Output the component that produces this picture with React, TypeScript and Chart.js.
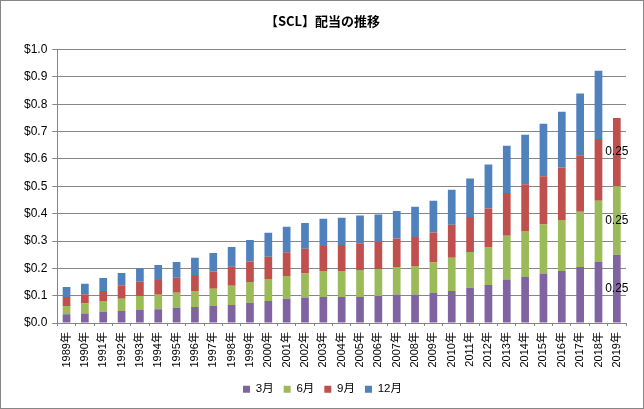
import React, { useEffect, useRef } from 'react';
import { Chart, registerables } from 'chart.js';

Chart.register(...registerables);

const years = [
  '1989年', '1990年', '1991年', '1992年', '1993年', '1994年', '1995年', '1996年',
  '1997年', '1998年', '1999年', '2000年', '2001年', '2002年', '2003年', '2004年',
  '2005年', '2006年', '2007年', '2008年', '2009年', '2010年', '2011年', '2012年',
  '2013年', '2014年', '2015年', '2016年', '2017年', '2018年', '2019年',
];

// quarterly dividends, USD
const mar = [
  0.032, 0.035, 0.041, 0.044, 0.048, 0.050, 0.056, 0.059, 0.062, 0.066, 0.074,
  0.081, 0.089, 0.093, 0.095, 0.095, 0.095, 0.099, 0.104, 0.104, 0.110, 0.117,
  0.129, 0.139, 0.159, 0.168, 0.181, 0.190, 0.205, 0.223, 0.250,
];
const jun = [
  0.030, 0.036, 0.040, 0.045, 0.051, 0.053, 0.055, 0.058, 0.063, 0.070, 0.076,
  0.080, 0.083, 0.088, 0.095, 0.095, 0.099, 0.099, 0.101, 0.105, 0.111, 0.122,
  0.131, 0.139, 0.160, 0.169, 0.179, 0.187, 0.202, 0.224, 0.250,
];
const sep = [
  0.033, 0.034, 0.036, 0.049, 0.052, 0.054, 0.055, 0.059, 0.063, 0.070, 0.075,
  0.081, 0.087, 0.091, 0.092, 0.095, 0.098, 0.098, 0.104, 0.106, 0.110, 0.120,
  0.128, 0.141, 0.157, 0.171, 0.177, 0.192, 0.207, 0.226, 0.250,
];
const dec = [
  0.037, 0.039, 0.048, 0.045, 0.049, 0.055, 0.057, 0.063, 0.068, 0.072, 0.079,
  0.088, 0.093, 0.094, 0.099, 0.100, 0.101, 0.101, 0.101, 0.110, 0.116, 0.128,
  0.141, 0.161, 0.172, 0.181, 0.192, 0.204, 0.225, 0.250, null,
];

const seriesNames = ['3月', '6月', '9月', '12月'];
const seriesColors = ['#8064A2', '#9BBB59', '#C0504D', '#4F81BD'];
// categories whose segments carry a value label
const labelledYears = ['2019年'];

const valueLabels = {
  id: 'valueLabels',
  afterDatasetsDraw(chart: Chart) {
    const ctx = chart.ctx;
    ctx.save();
    ctx.font = '12px "Liberation Sans", "Noto Sans CJK JP", sans-serif';
    ctx.fillStyle = '#000';
    ctx.textAlign = 'center';
    ctx.textBaseline = 'middle';
    chart.data.datasets.forEach((ds, di) => {
      const meta = chart.getDatasetMeta(di);
      meta.data.forEach((el: any, i) => {
        const v = ds.data[i] as number | null;
        if (v == null || !labelledYears.includes(years[i])) return;
        const { x, y, base } = el.getProps(['x', 'y', 'base'], true);
        ctx.fillText(String(v), x, (y + base) / 2);
      });
    });
    ctx.restore();
  },
};

const frame = {
  id: 'frame',
  beforeDraw(chart: Chart) {
    const ctx = chart.ctx;
    ctx.save();
    ctx.fillStyle = '#fff';
    ctx.fillRect(0, 0, chart.width, chart.height);
    ctx.restore();
  },
  afterDraw(chart: Chart) {
    const ctx = chart.ctx;
    ctx.save();
    ctx.strokeStyle = '#868686';
    ctx.lineWidth = 1;
    ctx.strokeRect(0.5, 0.5, chart.width - 1, chart.height - 1);
    ctx.restore();
  },
};

export default function App() {
  const canvasRef = useRef<HTMLCanvasElement>(null);

  useEffect(() => {
    const ctx = canvasRef.current?.getContext('2d');
    if (!ctx) return;

    Chart.defaults.font.family = '"Liberation Sans", "Noto Sans CJK JP", sans-serif';
    Chart.defaults.color = '#000';

    const chart = new Chart(ctx, {
      type: 'bar',
      data: {
        labels: years,
        datasets: [mar, jun, sep, dec].map((d, i) => ({
          label: seriesNames[i],
          data: d,
          backgroundColor: seriesColors[i],
          borderWidth: 0,
          categoryPercentage: 1,
          barPercentage: 0.42,
        })),
      },
      options: {
        responsive: false,
        animation: false,
        layout: { padding: { left: 19, right: 18, top: 0, bottom: 4 } },
        plugins: {
          title: {
            display: true,
            text: '【SCL】配当の推移',
            font: { size: 13, weight: 'bold', family: '"Noto Sans CJK JP", sans-serif' },
            color: '#000',
            padding: { top: 13, bottom: 21 },
          },
          legend: {
            position: 'bottom',
            labels: {
              boxWidth: 7,
              boxHeight: 7,
              font: { size: 11.5 },
              padding: 10,
            },
          },
          tooltip: { enabled: false },
        },
        scales: {
          x: {
            stacked: true,
            grid: {
              offset: true,
              drawOnChartArea: false,
              drawTicks: true,
              tickLength: 3,
              color: '#868686',
            },
            border: { color: '#868686' },
            ticks: {
              minRotation: 90,
              maxRotation: 90,
              autoSkip: false,
              font: { size: 11 },
              padding: 6,
            },
          },
          y: {
            stacked: true,
            min: 0,
            max: 1,
            grid: { color: '#868686', tickLength: 5 },
            border: { color: '#868686' },
            ticks: {
              stepSize: 0.1,
              font: { size: 12 },
              padding: 5,
              callback: (v: string | number) => '$' + Number(v).toFixed(1),
            },
          },
        },
      },
      plugins: [frame, valueLabels],
    });

    return () => chart.destroy();
  }, []);

  return (
    <div style={{ position: 'fixed', left: 0, top: 0, width: 644, height: 409 }}>
      <canvas ref={canvasRef} width={644} height={409} />
    </div>
  );
}
